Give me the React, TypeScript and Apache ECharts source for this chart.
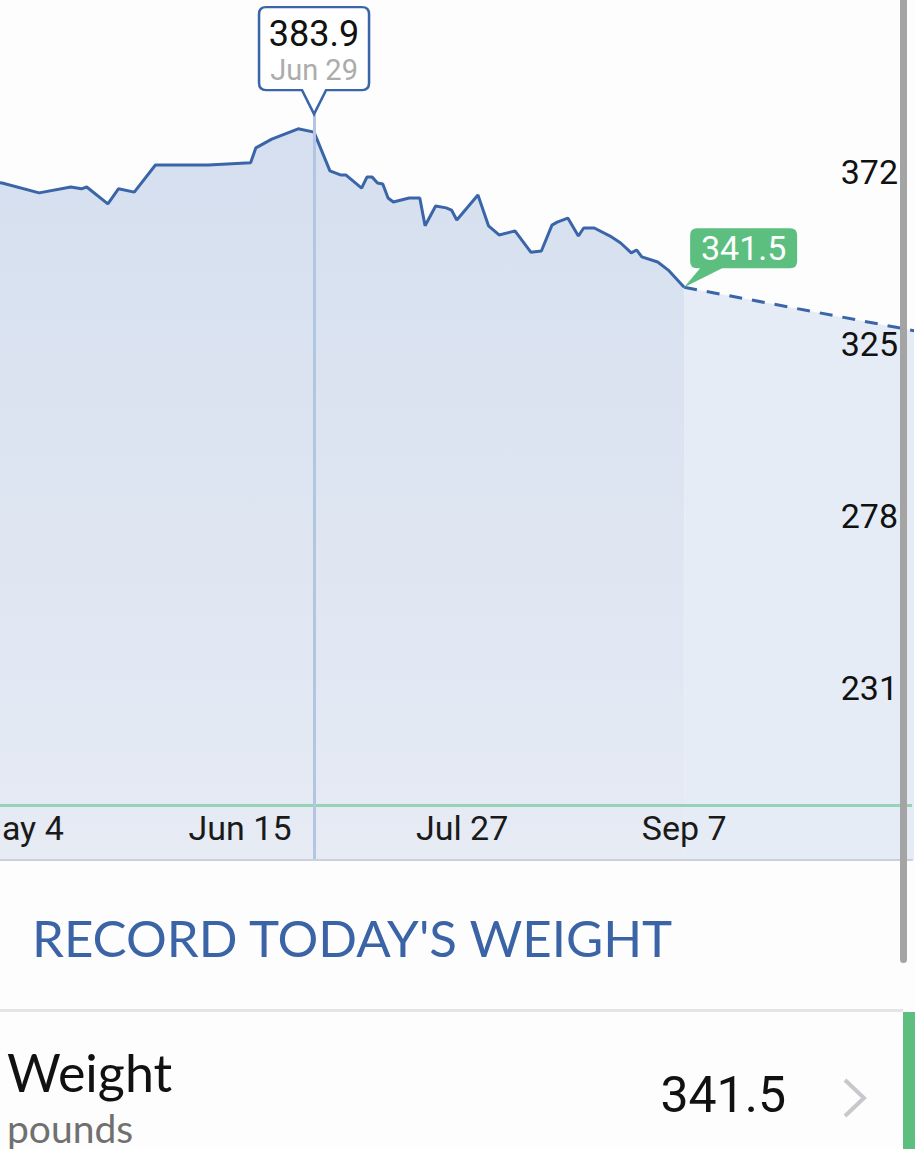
import React, { useEffect, useRef } from "react";
import * as echarts from "echarts";

// ---- data ----
const dates = [
  "2017-04-26", "2017-05-01", "2017-05-08", "2017-05-14", "2017-05-16", "2017-05-17",
  "2017-05-21", "2017-05-23", "2017-05-26", "2017-05-30", "2017-06-09", "2017-06-17",
  "2017-06-18", "2017-06-21", "2017-06-26", "2017-06-29", "2017-07-02", "2017-07-04",
  "2017-07-05", "2017-07-08", "2017-07-09", "2017-07-10", "2017-07-11", "2017-07-12",
  "2017-07-13", "2017-07-14", "2017-07-17", "2017-07-19", "2017-07-20", "2017-07-22",
  "2017-07-24", "2017-07-25", "2017-07-26", "2017-07-30", "2017-08-01", "2017-08-03",
  "2017-08-06", "2017-08-09", "2017-08-11", "2017-08-13", "2017-08-14", "2017-08-16",
  "2017-08-18", "2017-08-19", "2017-08-21", "2017-08-24", "2017-08-26", "2017-08-28",
  "2017-08-29", "2017-08-30", "2017-09-02", "2017-09-04", "2017-09-07",
];
const weights = [
  371.0, 370.0, 367.3, 368.9, 368.4, 368.9,
  364.3, 368.4, 367.5, 374.9, 374.9, 375.5,
  379.6, 382.0, 384.8, 383.9, 373.3, 372.2,
  372.2, 368.6, 371.6, 371.6, 370.0, 369.7,
  365.9, 364.8, 365.9, 365.9, 358.3, 363.7,
  363.2, 362.6, 359.9, 366.7, 358.3, 355.8,
  356.9, 351.1, 351.4, 358.5, 359.3, 360.4,
  355.5, 357.7, 357.7, 355.5, 353.6, 350.9,
  351.7, 349.8, 348.4, 346.2, 341.5,
];
const projectionDates = ["2017-09-07", "2017-10-21"];
const projectionWeights = [341.5, 329.5];
const goalWeight = 200;
const selectedDate = "2017-06-29";
const selectedWeight = 383.9;
const selectedLabel = "Jun 29";
const latestDate = "2017-09-07";
const latestWeight = 341.5;
const xTickDates = ["2017-05-04", "2017-06-15", "2017-07-27", "2017-09-07"];
const xTickLabels = ["May 4", "Jun 15", "Jul 27", "Sep 7"];
const yTickValues = [231, 278, 325, 372];
const yMin = 185;
const yMax = 420;
const xMinDate = "2017-04-30T14:24";
const xMaxDate = "2017-10-20T02:24";

// day number (days since epoch, UTC)
const toDay = (s: string) => {
  const [datePart, timePart] = s.split("T");
  const [y, m, d] = datePart.split("-").map(Number);
  let t = Date.UTC(y, m - 1, d);
  if (timePart) {
    const [hh, mm] = timePart.split(":").map(Number);
    t += (hh * 60 + mm) * 60000;
  }
  return t / 86400000;
};

const BLUE = "#3a65a8";
const GREEN = "#5cbf7f";

const blueCallout =
  "path://M7,0 H103 Q110,0 110,7 V76 Q110,83 103,83 H67 L55,107 L43,83 H7 Q0,83 0,76 V7 Q0,0 7,0 Z";
const greenCallout =
  "path://M7,0 H100 Q107,0 107,7 V33 Q107,40 100,40 H32 L-6,59 L10,40 H7 Q0,40 0,33 V7 Q0,0 7,0 Z";

export default function App() {
  const ref = useRef<HTMLDivElement>(null);
  useEffect(() => {
    document.body.style.margin = "0";
    document.body.style.background = "#fdfdfd";
    const chart = echarts.init(ref.current!, undefined, { renderer: "svg" });
    const mainData = dates.map((d, i) => [toDay(d), weights[i]]);
    const projData = projectionDates.map((d, i) => [toDay(d), projectionWeights[i]]);
    const xTickDays = xTickDates.map(toDay);
    const selT = toDay(selectedDate);

    chart.setOption({
      animation: false,
      backgroundColor: "#fdfdfd",
      grid: { left: 0, right: 3, top: 0, bottom: 289, outerBoundsMode: "none", containLabel: false },
      xAxis: {
        type: "value",
        z: 10,
        min: toDay(xMinDate),
        max: toDay(xMaxDate),
        axisLine: { show: true, lineStyle: { color: "#c9d1dd", width: 2 } },
        axisTick: { show: false },
        splitLine: { show: false },
        axisLabel: {
          inside: true,
          margin: 15,
          customValues: xTickDays,
          hideOverlap: false,
          fontFamily: "Roboto",
          fontSize: 34,
          color: "#1a1a1a",
          formatter: (v: number) => {
            let best = -1;
            xTickDays.forEach((t, i) => {
              if (Math.abs(t - v) < 0.01) best = i;
            });
            return best >= 0 ? xTickLabels[best] : "";
          },
        },
      },
      yAxis: {
        type: "value",
        z: 10,
        position: "right",
        min: yMin,
        max: yMax,
        axisLine: { show: false },
        axisTick: { show: false },
        splitLine: { show: false },
        axisLabel: {
          inside: true,
          margin: 14,
          customValues: yTickValues,
          formatter: (v: number) => `{v|${v}}`,
          rich: {
            v: {
              fontFamily: "Roboto",
              fontSize: 34,
              color: "#111",
              padding: [0, 0, 8, 0],
            },
          },
        },
      },
      series: [
        {
          type: "line",
          data: mainData,
          showSymbol: false,
          symbol: "none",
          lineStyle: { color: BLUE, width: 3 },
          itemStyle: { color: BLUE },
          areaStyle: {
            opacity: 1,
            color: new echarts.graphic.LinearGradient(0, 0, 0, 1, [
              { offset: 0, color: "#d5dfef" },
              { offset: 1, color: "#e6ebf4" },
            ]),
          },
          z: 3,
          markLine: {
            silent: true,
            symbol: "none",
            label: { show: false },
            data: [
              { yAxis: goalWeight, lineStyle: { color: "#96d3b5", width: 3, type: "solid" } },
              [
                { coord: [selT, selectedWeight + 4.9], lineStyle: { color: "#b3c5e2", width: 3, type: "solid" } },
                { coord: [selT, yMin] },
              ],
            ],
          },
          markPoint: {
            silent: true,
            data: [
              {
                coord: [selT, selectedWeight],
                symbol: blueCallout,
                symbolSize: [110, 107],
                symbolOffset: [0, -71.5],
                itemStyle: { color: "#ffffff", borderColor: BLUE, borderWidth: 2.5 },
                label: {
                  show: true,
                  position: "inside",
                  offset: [0, -10],
                  formatter: () => `{a|${selectedWeight.toFixed(1)}}\n{b|${selectedLabel}}`,
                  rich: {
                    a: { fontFamily: "Roboto", fontSize: 36, color: "#111", lineHeight: 38, align: "center" },
                    b: { fontFamily: "Roboto", fontSize: 29, color: "#acacac", lineHeight: 34, align: "center" },
                  },
                },
              },
              {
                coord: [toDay(latestDate), latestWeight],
                symbol: greenCallout,
                symbolSize: [113, 59],
                symbolOffset: [56.5, -29.5],
                itemStyle: { color: GREEN, borderWidth: 0 },
                label: {
                  show: true,
                  position: "inside",
                  offset: [3, -9.5],
                  formatter: () => latestWeight.toFixed(1),
                  fontFamily: "Roboto",
                  fontSize: 34,
                  color: "#ffffff",
                },
              },
            ],
          },
        },
        {
          type: "line",
          data: projData,
          showSymbol: false,
          symbol: "none",
          lineStyle: { color: BLUE, width: 3, type: [13, 10] },
          itemStyle: { color: BLUE },
          areaStyle: { color: "#e6ecf6", opacity: 1 },
          z: 2,
        },
      ],
      graphic: [
        {
          type: "text",
          x: 32,
          y: 937,
          style: {
            text: "RECORD TODAY'S WEIGHT",
            fontFamily: "Lato",
            fontSize: 51,
            fill: "#3b64a7",
            align: "left",
            verticalAlign: "middle",
          },
        },
        {
          type: "rect",
          shape: { x: 0, y: 1009, width: 903, height: 3 },
          style: { fill: "#e4e4e6" },
        },
        {
          type: "text",
          x: 7,
          y: 1072,
          style: {
            text: "Weight",
            fontFamily: "Lato",
            fontSize: 52,
            fill: "#111",
            align: "left",
            verticalAlign: "middle",
          },
        },
        {
          type: "text",
          x: 7,
          y: 1128,
          style: {
            text: "pounds",
            fontFamily: "Lato",
            fontSize: 39,
            fill: "#707070",
            align: "left",
            verticalAlign: "middle",
          },
        },
        {
          type: "text",
          x: 786,
          y: 1095,
          style: {
            text: latestWeight.toFixed(1),
            fontFamily: "Roboto",
            fontSize: 50,
            fill: "#111",
            align: "right",
            verticalAlign: "middle",
          },
        },
        {
          type: "polyline",
          shape: { points: [[845, 1080], [864, 1098], [845, 1116]] },
          style: { stroke: "#c7c7cc", lineWidth: 4, fill: null },
        },
        {
          type: "rect",
          shape: { x: 903, y: 1012, width: 12, height: 137 },
          style: { fill: GREEN },
        },
        {
          type: "rect",
          shape: { x: 900, y: 0, width: 7, height: 963, r: [0, 0, 3.5, 3.5] },
          style: { fill: "#a4a4a4" },
          z: 100,
        },
      ],
    });
    return () => chart.dispose();
  }, []);
  return <div ref={ref} style={{ width: 915, height: 1149 }} />;
}
